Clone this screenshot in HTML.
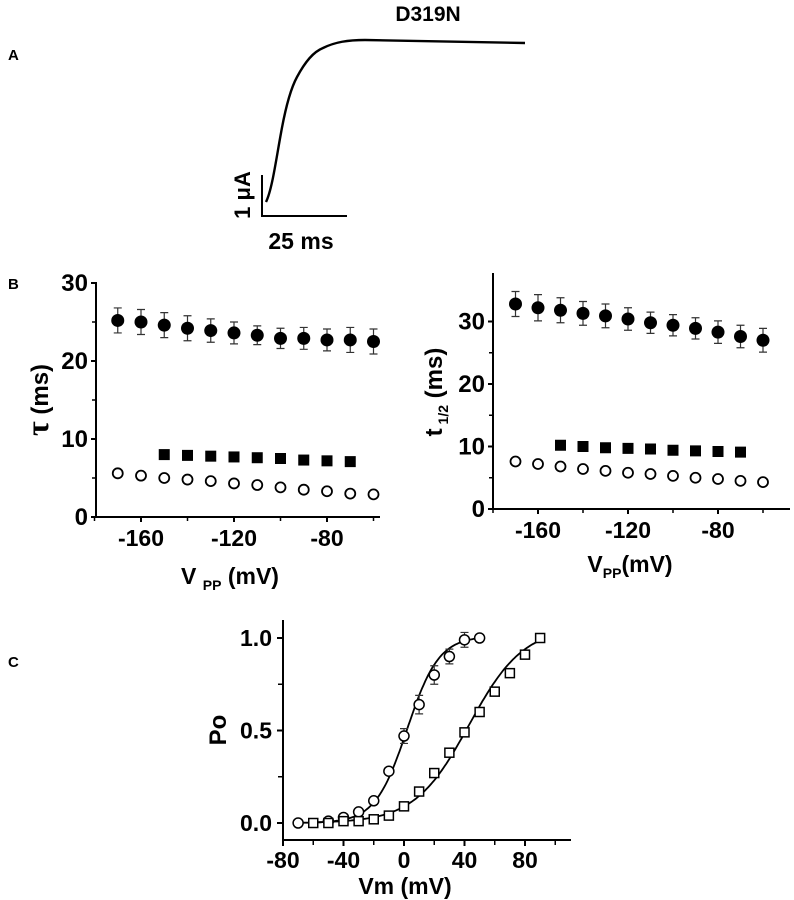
<!DOCTYPE html>
<html><head><meta charset="utf-8"><style>
body{margin:0;background:#fff}
svg{display:block;font-family:"Liberation Sans",Arial,sans-serif;font-weight:bold}
</style></head><body>
<svg id="fig" width="794" height="900" viewBox="0 0 794 900" xmlns="http://www.w3.org/2000/svg">
<text x="428" y="21" font-size="21" text-anchor="middle">D319N</text>
<text x="8" y="60" font-size="15">A</text>
<text x="8" y="289" font-size="15">B</text>
<text x="8" y="667" font-size="15">C</text>
<path d="M266,202 C272,190 276,160 281,133 C286,105 291,88 297,77 C305,62 313,52 323,48 C335,42 348,40 365,40 L525,43" fill="none" stroke="#000" stroke-width="2.4"/>
<path d="M262,175 L262,216 L347,216" fill="none" stroke="#000" stroke-width="2"/>
<text transform="translate(250,195) rotate(-90)" font-size="22" text-anchor="middle">1 μA</text>
<text x="301" y="249" font-size="23" text-anchor="middle">25 ms</text>
<g id="left"></g>
<g id="right"></g>
<g id="pc"></g>
</svg>
<script>
const vpp=[-170,-160,-150,-140,-130,-120,-110,-100,-90,-80,-70,-60];
const vppSq=[-150,-140,-130,-120,-110,-100,-90,-80,-70];
const tauFilled=[25.2,25.0,24.6,24.2,23.9,23.6,23.3,22.9,22.9,22.7,22.7,22.5];
const tauFilledErr=[1.6,1.6,1.6,1.6,1.5,1.4,1.2,1.3,1.4,1.4,1.6,1.6];
const tauSquare=[8.0,7.9,7.8,7.7,7.6,7.5,7.3,7.2,7.1];
const tauOpen=[5.6,5.3,5.0,4.8,4.6,4.3,4.1,3.8,3.5,3.3,3.0,2.9];
const thFilled=[32.8,32.2,31.8,31.3,30.9,30.4,29.8,29.4,28.9,28.3,27.6,27.0];
const thFilledErr=[2.0,2.1,2.0,1.9,1.9,1.8,1.7,1.7,1.7,1.8,1.8,1.9];
const thSquare=[10.2,10.0,9.8,9.7,9.6,9.4,9.3,9.2,9.1];
const thOpen=[7.6,7.2,6.8,6.4,6.1,5.8,5.6,5.3,5.0,4.8,4.5,4.3];
const bXTicks=[-160,-120,-80];
const tauYTicks=[0,10,20,30];
const thYTicks=[0,10,20,30];
const vmCircle=[-70,-50,-40,-30,-20,-10,0,10,20,30,40,50];
const poCircle=[0,0.01,0.03,0.06,0.12,0.28,0.47,0.64,0.80,0.90,0.99,1.0];
const poCircleErr=[0,0,0,0,0,0,0.04,0.05,0.05,0.04,0.04,0];
const vmSquare=[-60,-50,-40,-30,-20,-10,0,10,20,30,40,50,60,70,80,90];
const poSquare=[0,0,0.01,0.01,0.02,0.04,0.09,0.17,0.27,0.38,0.49,0.60,0.71,0.81,0.91,1.0];
const fitCircle=[2,10.5,1.01];
const fitSquare=[43,18,1.06];
const cXTicks=[-80,-40,0,40,80];
const cYTicks=[0,0.5,1.0];
const cYLabels=["0.0","0.5","1.0"];

const NS="http://www.w3.org/2000/svg";
function mk(p,t,a){const e=document.createElementNS(NS,t);for(const k in a)e.setAttribute(k,a[k]);p.appendChild(e);return e;}
function lin(d0,d1,r0,r1){return v=>r0+(v-d0)*(r1-r0)/(d1-d0);}

function panelB(g,cfg){
 const X=lin(-160,-80,cfg.x160,cfg.x80), Y=lin(0,10,cfg.y0,cfg.y10);
 let e=mk(g,'line',{x1:cfg.ax,y1:cfg.top,x2:cfg.ax,y2:cfg.y0,stroke:'#000','stroke-width':2});
 
 e=mk(g,'line',{x1:cfg.ax,y1:cfg.y0,x2:cfg.xend,y2:cfg.y0,stroke:'#000','stroke-width':2});
 
 cfg.yt.forEach(v=>{const y=Y(v);
  mk(g,'line',{x1:cfg.ax-5,y1:y,x2:cfg.ax,y2:y,stroke:'#000','stroke-width':2});
  e=mk(g,'text',{x:cfg.ax-8,y:y+8,'font-size':24,'text-anchor':'end'});e.textContent=v;
  
  if(v<30){const m=Y(v+5);mk(g,'line',{x1:cfg.ax-4,y1:m,x2:cfg.ax,y2:m,stroke:'#000','stroke-width':1.5});}
 });
 bXTicks.forEach(v=>{const x=X(v);
  mk(g,'line',{x1:x,y1:cfg.y0,x2:x,y2:cfg.y0+5,stroke:'#000','stroke-width':2});
  const m=X(v+20);mk(g,'line',{x1:m,y1:cfg.y0,x2:m,y2:cfg.y0+4,stroke:'#000','stroke-width':1.5});
  e=mk(g,'text',{x:x,y:cfg.y0+29,'font-size':23,'text-anchor':'middle'});e.textContent=v;
  
 });
 mk(g,'line',{x1:X(-180),y1:cfg.y0,x2:X(-180),y2:cfg.y0+4,stroke:'#000','stroke-width':1.5});
 vpp.forEach((v,i)=>{const x=X(v),y=Y(cfg.filled[i]),er=cfg.err[i]*(cfg.y0-cfg.y10)/10;
  mk(g,'path',{d:`M${x},${y-er}V${y+er}M${x-4},${y-er}h8M${x-4},${y+er}h8`,stroke:'#333','stroke-width':1.2,fill:'none'});
  e=mk(g,'circle',{cx:x,cy:y,r:6.5,fill:'#000'});
  
  e=mk(g,'circle',{cx:x,cy:Y(cfg.open[i]),r:5,fill:'#fff',stroke:'#000','stroke-width':1.8});
  
 });
 vppSq.forEach((v,i)=>{const x=X(v),y=Y(cfg.sq[i]);
  e=mk(g,'rect',{x:x-5.5,y:y-5.5,width:11,height:11,fill:'#000'});
  
 });
}
panelB(document.getElementById('left'),{x160:141,x80:327,y0:517,y10:439,ax:96,top:282,xend:380,yt:tauYTicks,filled:tauFilled,err:tauFilledErr,open:tauOpen,sq:tauSquare});
panelB(document.getElementById('right'),{x160:538,x80:718,y0:509,y10:446.5,ax:493,top:273,xend:790,yt:thYTicks,filled:thFilled,err:thFilledErr,open:thOpen,sq:thSquare});

const L=document.getElementById('left'),R=document.getElementById('right');
let t=mk(L,'text',{transform:'translate(48,400) rotate(-90)','font-size':24,'text-anchor':'middle'});
t.innerHTML='<tspan font-size="32" font-family="Liberation Serif,serif">τ</tspan> (ms)';

t=mk(L,'text',{x:230,y:584,'font-size':23,'text-anchor':'middle'});
t.innerHTML='V <tspan font-size="14" dy="6">PP</tspan><tspan dy="-6"> (mV)</tspan>';

t=mk(R,'text',{transform:'translate(442,392) rotate(-90)','font-size':24,'text-anchor':'middle'});
t.innerHTML='t<tspan font-size="14" dy="6"> 1/2</tspan><tspan dy="-6"> (ms)</tspan>';

t=mk(R,'text',{x:630,y:572,'font-size':23,'text-anchor':'middle'});
t.innerHTML='V<tspan font-size="14" dy="6">PP</tspan><tspan dy="-6">(mV)</tspan>';


(function(){
 const g=document.getElementById('pc');
 const X=lin(-80,80,283,525),Y=lin(0,1,823,638);
 let e=mk(g,'path',{d:'M283,620V840H571',stroke:'#000','stroke-width':2,fill:'none'});
 
 cXTicks.forEach(v=>{const x=X(v);mk(g,'line',{x1:x,y1:840,x2:x,y2:846,stroke:'#000','stroke-width':2});
  const m=X(v+20);mk(g,'line',{x1:m,y1:840,x2:m,y2:845,stroke:'#000','stroke-width':1.5});
  e=mk(g,'text',{x:x,y:868,'font-size':23,'text-anchor':'middle'});e.textContent=v;
  });
 cYTicks.forEach((v,i)=>{const y=Y(v);mk(g,'line',{x1:277,y1:y,x2:283,y2:y,stroke:'#000','stroke-width':2});
  if(v<1){const m=Y(v+0.25);mk(g,'line',{x1:278,y1:m,x2:283,y2:m,stroke:'#000','stroke-width':1.5});}
  e=mk(g,'text',{x:272,y:y+8,'font-size':23,'text-anchor':'end'});e.textContent=cYLabels[i];
  });
 e=mk(g,'text',{transform:'translate(226,730) rotate(-90)','font-size':24,'text-anchor':'middle'});e.textContent='Po';
 
 e=mk(g,'text',{x:405,y:894,'font-size':23,'text-anchor':'middle'});e.textContent='Vm (mV)';
 
 function curve(p,a,b){let d='';for(let v=a;v<=b;v+=1){const y=p[2]/(1+Math.exp(-(v-p[0])/p[1]));d+=(d?'L':'M')+X(v).toFixed(1)+','+Y(y).toFixed(1);}return d;}
 e=mk(g,'path',{d:curve(fitCircle,-70,50),stroke:'#000','stroke-width':1.8,fill:'none'});
 
 e=mk(g,'path',{d:curve(fitSquare,-60,90),stroke:'#000','stroke-width':1.8,fill:'none'});
 
 vmCircle.forEach((v,i)=>{const x=X(v),y=Y(poCircle[i]),er=poCircleErr[i]*185;
  if(er>0)mk(g,'path',{d:`M${x},${y-er}V${y+er}M${x-4},${y-er}h8M${x-4},${y+er}h8`,stroke:'#333','stroke-width':1.2,fill:'none'});
  e=mk(g,'circle',{cx:x,cy:y,r:5,fill:'#fff',stroke:'#000','stroke-width':1.5});
  });
 vmSquare.forEach((v,i)=>{const x=X(v),y=Y(poSquare[i]);
  e=mk(g,'rect',{x:x-4.5,y:y-4.5,width:9,height:9,fill:'#fff',stroke:'#000','stroke-width':1.5});
  });
})();
</script>
</body></html>
